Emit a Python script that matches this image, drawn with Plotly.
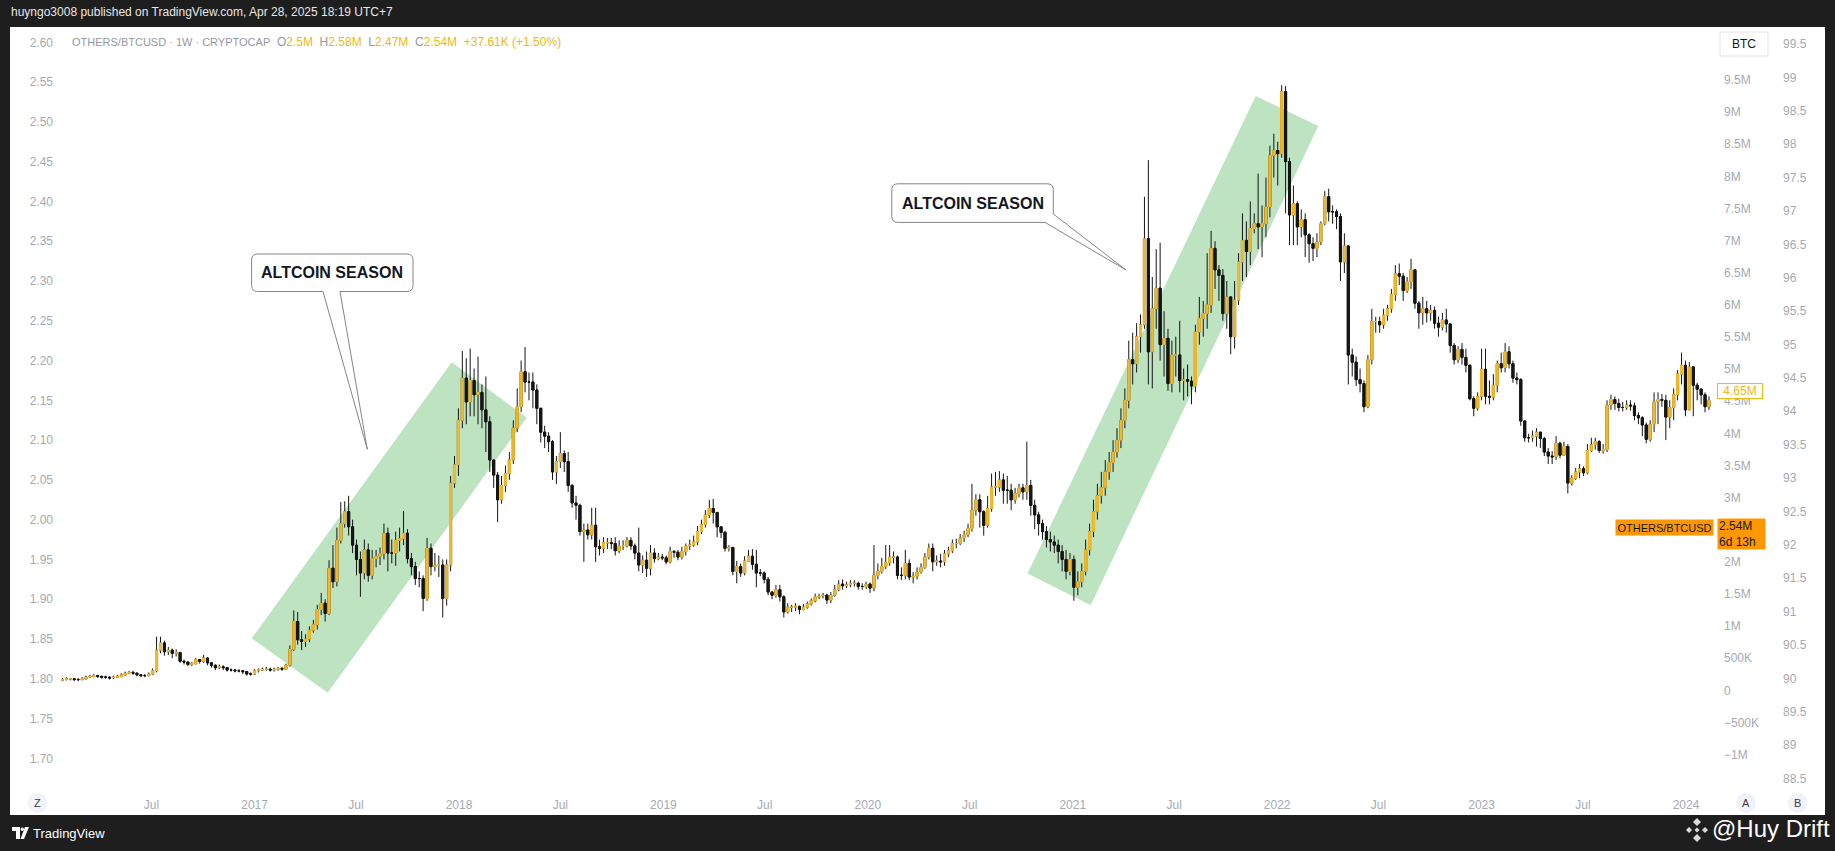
import pandas as pd
import plotly.graph_objects as go

# ---------------- canvas / pixel helpers (layout only) ----------------
W, H = 1835, 851
L, R, T, B = 58, 1810, 28, 790
X_RIGHT = 1714


def px(X):
    return (X - L) / (R - L)


def py(Y):
    return (B - Y) / (B - T)


# ---------------- data ----------------
dates = pd.date_range('2016-01-24', periods=421, freq='7D')

first_open = 1.798
close = [
    1.799, 1.800, 1.800, 1.799, 1.799, 1.800, 1.802, 1.803, 1.804, 1.803,
    1.802, 1.802, 1.801, 1.802, 1.803, 1.805, 1.807, 1.808, 1.807, 1.805,
    1.804, 1.804, 1.806, 1.810, 1.836, 1.845, 1.834, 1.836, 1.832, 1.833,
    1.822, 1.821, 1.818, 1.819, 1.824, 1.822, 1.826, 1.820, 1.817, 1.814,
    1.815, 1.814, 1.811, 1.811, 1.810, 1.810, 1.809, 1.806, 1.806, 1.810,
    1.811, 1.812, 1.812, 1.811, 1.812, 1.813, 1.812, 1.817, 1.837, 1.872,
    1.849, 1.847, 1.850, 1.861, 1.868, 1.887, 1.895, 1.882, 1.939, 1.922,
    1.974, 1.995, 2.010, 1.991, 1.968, 1.950, 1.933, 1.962, 1.930, 1.951,
    1.954, 1.957, 1.983, 1.958, 1.958, 1.974, 1.976, 1.983, 1.951, 1.941,
    1.926, 1.926, 1.901, 1.964, 1.941, 1.943, 1.943, 1.901, 1.943, 2.046,
    2.069, 2.125, 2.178, 2.148, 2.175, 2.157, 2.160, 2.138, 2.123, 2.075,
    2.056, 2.025, 2.043, 2.058, 2.075, 2.115, 2.142, 2.186, 2.173, 2.173,
    2.163, 2.140, 2.110, 2.105, 2.098, 2.060, 2.073, 2.083, 2.073, 2.043,
    2.021, 2.018, 1.985, 1.987, 1.981, 1.993, 1.966, 1.964, 1.971, 1.971,
    1.970, 1.961, 1.967, 1.967, 1.974, 1.967, 1.958, 1.943, 1.949, 1.939,
    1.958, 1.951, 1.953, 1.952, 1.947, 1.960, 1.959, 1.953, 1.960, 1.967,
    1.968, 1.972, 1.985, 1.994, 2.006, 2.014, 2.009, 1.991, 1.984, 1.964,
    1.965, 1.935, 1.941, 1.933, 1.948, 1.954, 1.944, 1.933, 1.933, 1.925,
    1.909, 1.905, 1.912, 1.903, 1.884, 1.890, 1.890, 1.891, 1.887, 1.890,
    1.894, 1.898, 1.903, 1.904, 1.905, 1.899, 1.905, 1.912, 1.919, 1.917,
    1.918, 1.920, 1.920, 1.916, 1.916, 1.919, 1.914, 1.930, 1.935, 1.941,
    1.946, 1.953, 1.953, 1.930, 1.930, 1.945, 1.928, 1.929, 1.934, 1.940,
    1.953, 1.964, 1.947, 1.948, 1.947, 1.957, 1.961, 1.970, 1.970, 1.977,
    1.981, 1.989, 2.012, 2.025, 2.010, 1.993, 2.014, 2.041, 2.041, 2.050,
    2.037, 2.037, 2.025, 2.033, 2.040, 2.035, 2.043, 2.018, 2.006, 1.995,
    1.985, 1.975, 1.972, 1.968, 1.960, 1.950, 1.935, 1.950, 1.915, 1.922,
    1.935, 1.962, 1.985, 2.010, 2.030, 2.040, 2.060, 2.072, 2.085, 2.100,
    2.125, 2.150, 2.201, 2.196, 2.230, 2.245, 2.353, 2.211, 2.265, 2.291,
    2.220, 2.228, 2.171, 2.207, 2.207, 2.175, 2.176, 2.174, 2.168, 2.236,
    2.253, 2.259, 2.270, 2.341, 2.314, 2.307, 2.259, 2.280, 2.230, 2.276,
    2.324, 2.351, 2.337, 2.366, 2.372, 2.368, 2.372, 2.393, 2.458, 2.464,
    2.460, 2.538, 2.450, 2.383, 2.397, 2.368, 2.377, 2.358, 2.347, 2.341,
    2.349, 2.372, 2.406, 2.387, 2.387, 2.381, 2.324, 2.344, 2.207, 2.198,
    2.176, 2.171, 2.142, 2.201, 2.249, 2.249, 2.245, 2.257, 2.265, 2.283,
    2.309, 2.306, 2.288, 2.299, 2.314, 2.272, 2.260, 2.265, 2.260, 2.263,
    2.247, 2.242, 2.251, 2.246, 2.219, 2.201, 2.214, 2.204, 2.194, 2.152,
    2.140, 2.155, 2.189, 2.155, 2.154, 2.169, 2.196, 2.191, 2.211, 2.196,
    2.178, 2.176, 2.124, 2.103, 2.103, 2.105, 2.110, 2.102, 2.085, 2.080,
    2.079, 2.096, 2.081, 2.092, 2.046, 2.052, 2.060, 2.064, 2.059, 2.087,
    2.094, 2.098, 2.087, 2.088, 2.144, 2.151, 2.146, 2.141, 2.141, 2.144,
    2.143, 2.131, 2.128, 2.119, 2.101, 2.120, 2.148, 2.151, 2.150, 2.129,
    2.141, 2.157, 2.183, 2.194, 2.138, 2.192, 2.169, 2.164, 2.157, 2.142, 2.150,
]

high = [
    1.801, 1.802, 1.801, 1.801, 1.801, 1.802, 1.804, 1.805, 1.806, 1.805,
    1.804, 1.804, 1.803, 1.804, 1.805, 1.807, 1.809, 1.810, 1.810, 1.808,
    1.806, 1.806, 1.808, 1.813, 1.853, 1.853, 1.848, 1.840, 1.838, 1.837,
    1.834, 1.824, 1.822, 1.821, 1.826, 1.825, 1.830, 1.827, 1.821, 1.818,
    1.818, 1.817, 1.815, 1.813, 1.812, 1.812, 1.811, 1.810, 1.808, 1.812,
    1.813, 1.814, 1.815, 1.814, 1.814, 1.815, 1.815, 1.819, 1.842, 1.886,
    1.884, 1.860, 1.856, 1.866, 1.874, 1.893, 1.908, 1.900, 1.949, 1.968,
    1.990, 2.022, 2.023, 2.030, 2.000, 1.975, 1.960, 1.975, 1.970, 1.962,
    1.962, 1.965, 1.995, 1.990, 1.975, 1.985, 1.990, 2.011, 1.988, 1.958,
    1.947, 1.935, 1.930, 1.977, 1.970, 1.958, 1.955, 1.950, 1.950, 2.055,
    2.080, 2.140, 2.212, 2.203, 2.215, 2.190, 2.205, 2.170, 2.180, 2.130,
    2.075, 2.060, 2.055, 2.068, 2.085, 2.125, 2.165, 2.200, 2.217, 2.185,
    2.185, 2.170, 2.140, 2.118, 2.110, 2.100, 2.080, 2.110, 2.087, 2.085,
    2.045, 2.030, 2.020, 1.995, 1.995, 2.015, 2.015, 1.975, 1.978, 1.977,
    1.977, 1.978, 1.974, 1.974, 1.978, 1.978, 1.970, 1.990, 1.955, 1.960,
    1.968, 1.964, 1.958, 1.957, 1.955, 1.966, 1.962, 1.962, 1.966, 1.970,
    1.975, 1.980, 1.992, 2.000, 2.012, 2.025, 2.026, 2.010, 1.990, 1.986,
    1.968, 1.966, 1.948, 1.945, 1.954, 1.962, 1.963, 1.962, 1.938, 1.935,
    1.928, 1.910, 1.918, 1.918, 1.905, 1.895, 1.893, 1.895, 1.892, 1.894,
    1.897, 1.901, 1.907, 1.907, 1.908, 1.907, 1.909, 1.918, 1.924, 1.925,
    1.922, 1.924, 1.924, 1.922, 1.920, 1.922, 1.921, 1.968, 1.945, 1.952,
    1.968, 1.968, 1.960, 1.955, 1.940, 1.962, 1.950, 1.934, 1.940, 1.945,
    1.958, 1.970, 1.970, 1.955, 1.957, 1.962, 1.966, 1.975, 1.976, 1.982,
    1.986, 1.995, 2.045, 2.032, 2.032, 2.012, 2.030, 2.058, 2.060, 2.061,
    2.058, 2.055, 2.045, 2.040, 2.045, 2.045, 2.098, 2.050, 2.025, 2.010,
    2.000, 1.992, 1.985, 1.980, 1.975, 1.968, 1.962, 1.958, 1.955, 1.935,
    1.945, 1.975, 1.995, 2.025, 2.045, 2.060, 2.075, 2.085, 2.100, 2.115,
    2.140, 2.165, 2.225, 2.235, 2.247, 2.258, 2.406, 2.452, 2.305, 2.340,
    2.348, 2.262, 2.240, 2.225, 2.230, 2.250, 2.190, 2.195, 2.180, 2.245,
    2.280, 2.275, 2.335, 2.363, 2.350, 2.320, 2.315, 2.300, 2.250, 2.300,
    2.335, 2.385, 2.375, 2.400, 2.385, 2.435, 2.395, 2.430, 2.470, 2.485,
    2.475, 2.546, 2.545, 2.455, 2.420, 2.400, 2.390, 2.385, 2.360, 2.355,
    2.360, 2.375, 2.413, 2.416, 2.395, 2.390, 2.385, 2.360, 2.345, 2.215,
    2.205, 2.190, 2.175, 2.207, 2.265, 2.255, 2.255, 2.265, 2.270, 2.290,
    2.320, 2.322, 2.310, 2.305, 2.328, 2.315, 2.275, 2.280, 2.275, 2.270,
    2.268, 2.255, 2.260, 2.265, 2.235, 2.222, 2.218, 2.222, 2.215, 2.195,
    2.155, 2.160, 2.215, 2.215, 2.175, 2.183, 2.200, 2.210, 2.222, 2.218,
    2.200, 2.185, 2.178, 2.125, 2.108, 2.112, 2.115, 2.110, 2.104, 2.090,
    2.086, 2.105, 2.098, 2.098, 2.095, 2.056, 2.065, 2.070, 2.067, 2.095,
    2.103, 2.103, 2.100, 2.095, 2.150, 2.157, 2.155, 2.152, 2.148, 2.150,
    2.150, 2.147, 2.135, 2.130, 2.122, 2.125, 2.160, 2.160, 2.158, 2.157,
    2.150, 2.165, 2.188, 2.210, 2.200, 2.198, 2.180, 2.172, 2.165, 2.160, 2.155,
]

low = [
    1.797, 1.798, 1.798, 1.797, 1.797, 1.798, 1.799, 1.801, 1.802, 1.801,
    1.800, 1.800, 1.799, 1.800, 1.801, 1.802, 1.804, 1.806, 1.805, 1.803,
    1.802, 1.802, 1.803, 1.805, 1.808, 1.832, 1.829, 1.830, 1.826, 1.828,
    1.820, 1.818, 1.816, 1.816, 1.818, 1.819, 1.820, 1.817, 1.814, 1.811,
    1.812, 1.811, 1.809, 1.809, 1.808, 1.808, 1.806, 1.804, 1.804, 1.805,
    1.808, 1.810, 1.810, 1.809, 1.809, 1.810, 1.810, 1.811, 1.815, 1.835,
    1.843, 1.836, 1.840, 1.846, 1.858, 1.862, 1.880, 1.872, 1.880, 1.914,
    1.916, 1.970, 1.990, 1.980, 1.958, 1.930, 1.903, 1.925, 1.922, 1.925,
    1.940, 1.943, 1.950, 1.935, 1.945, 1.942, 1.960, 1.968, 1.945, 1.930,
    1.918, 1.915, 1.885, 1.898, 1.930, 1.935, 1.928, 1.877, 1.892, 1.935,
    2.040, 2.055, 2.115, 2.120, 2.130, 2.130, 2.120, 2.115, 2.085, 2.060,
    2.040, 1.997, 2.020, 2.035, 2.050, 2.070, 2.110, 2.135, 2.160, 2.150,
    2.140, 2.120, 2.097, 2.090, 2.085, 2.050, 2.045, 2.065, 2.060, 2.035,
    2.015, 2.000, 1.980, 1.947, 1.975, 1.975, 1.947, 1.955, 1.958, 1.963,
    1.963, 1.955, 1.958, 1.962, 1.965, 1.962, 1.950, 1.935, 1.933, 1.928,
    1.930, 1.946, 1.949, 1.949, 1.944, 1.945, 1.952, 1.949, 1.950, 1.955,
    1.962, 1.966, 1.968, 1.982, 1.990, 2.002, 1.995, 1.978, 1.977, 1.960,
    1.960, 1.930, 1.920, 1.928, 1.930, 1.948, 1.937, 1.915, 1.929, 1.920,
    1.905, 1.900, 1.902, 1.897, 1.877, 1.882, 1.884, 1.885, 1.881, 1.886,
    1.888, 1.892, 1.896, 1.900, 1.901, 1.894, 1.895, 1.903, 1.910, 1.912,
    1.914, 1.915, 1.916, 1.912, 1.912, 1.913, 1.908, 1.910, 1.925, 1.932,
    1.938, 1.942, 1.945, 1.925, 1.924, 1.925, 1.924, 1.920, 1.925, 1.932,
    1.938, 1.950, 1.935, 1.942, 1.940, 1.942, 1.953, 1.958, 1.964, 1.968,
    1.972, 1.978, 1.985, 2.005, 1.990, 1.980, 1.990, 2.010, 2.030, 2.035,
    2.020, 2.020, 2.012, 2.020, 2.028, 2.025, 2.025, 2.005, 1.988, 1.980,
    1.975, 1.965, 1.960, 1.958, 1.945, 1.935, 1.925, 1.930, 1.898, 1.905,
    1.915, 1.930, 1.955, 1.978, 2.000, 2.020, 2.030, 2.050, 2.060, 2.078,
    2.090, 2.115, 2.140, 2.170, 2.185, 2.210, 2.240, 2.170, 2.165, 2.240,
    2.200, 2.180, 2.162, 2.160, 2.180, 2.160, 2.150, 2.155, 2.145, 2.160,
    2.220, 2.230, 2.240, 2.260, 2.290, 2.275, 2.250, 2.240, 2.208, 2.215,
    2.270, 2.300, 2.305, 2.320, 2.360, 2.340, 2.330, 2.355, 2.380, 2.430,
    2.420, 2.455, 2.385, 2.345, 2.345, 2.345, 2.355, 2.330, 2.323, 2.325,
    2.330, 2.345, 2.370, 2.375, 2.372, 2.365, 2.300, 2.310, 2.170, 2.180,
    2.168, 2.160, 2.135, 2.140, 2.195, 2.235, 2.235, 2.240, 2.250, 2.260,
    2.275, 2.295, 2.275, 2.285, 2.290, 2.265, 2.240, 2.245, 2.248, 2.250,
    2.240, 2.230, 2.238, 2.235, 2.210, 2.195, 2.197, 2.195, 2.185, 2.150,
    2.130, 2.137, 2.150, 2.145, 2.145, 2.150, 2.160, 2.185, 2.185, 2.190,
    2.172, 2.170, 2.118, 2.098, 2.097, 2.098, 2.092, 2.090, 2.080, 2.070,
    2.070, 2.075, 2.077, 2.080, 2.033, 2.043, 2.050, 2.052, 2.055, 2.057,
    2.085, 2.088, 2.084, 2.083, 2.085, 2.138, 2.138, 2.136, 2.136, 2.138,
    2.137, 2.125, 2.120, 2.105, 2.096, 2.098, 2.110, 2.120, 2.142, 2.100,
    2.115, 2.125, 2.150, 2.170, 2.130, 2.140, 2.130, 2.150, 2.145, 2.135, 2.138,
]

# axis tick labels
x_tickvals = ['2016-07-01', '2017-01-01', '2017-07-01', '2018-01-01', '2018-07-01',
              '2019-01-01', '2019-07-01', '2020-01-01', '2020-07-01', '2021-01-01',
              '2021-07-01', '2022-01-01', '2022-07-01', '2023-01-01', '2023-07-01',
              '2024-01-01']
x_ticktext = ['Jul', '2017', 'Jul', '2018', 'Jul', '2019', 'Jul', '2020', 'Jul', '2021',
              'Jul', '2022', 'Jul', '2023', 'Jul', '2024']

m_tickvals = [-1, -0.5, 0, 0.5, 1, 1.5, 2, 2.5, 3, 3.5, 4, 4.5, 5, 5.5, 6, 6.5, 7, 7.5,
              8, 8.5, 9, 9.5]
m_ticktext = ['\u22121M', '\u2212500K', '0', '500K', '1M', '1.5M', '2M', '2.5M', '3M',
              '3.5M', '4M', '4.5M', '5M', '5.5M', '6M', '6.5M', '7M', '7.5M', '8M',
              '8.5M', '9M', '9.5M']

r_tickvals = [88.5, 89, 89.5, 90, 90.5, 91, 91.5, 92, 92.5, 93, 93.5, 94, 94.5, 95,
              95.5, 96, 96.5, 97, 97.5, 98, 98.5, 99, 99.5]
r_ticktext = ['88.5', '89', '89.5', '90', '90.5', '91', '91.5', '92', '92.5', '93',
              '93.5', '94', '94.5', '95', '95.5', '96', '96.5', '97', '97.5', '98',
              '98.5', '99', '99.5']

# ---------------- derived OHLC consistency ----------------
opens = [first_open] + close[:-1]
high = [max(h, o, c) for h, o, c in zip(high, opens, close)]
low = [min(lo, o, c) for lo, o, c in zip(low, opens, close)]
body_hi = [max(o, c) for o, c in zip(opens, close)]
body_lo = [min(o, c) for o, c in zip(opens, close)]

UP = '#f4b926'
DOWN = '#151515'
GOLD = '#f0b90b'
AX = '#a6a9b0'
FONT = 'Liberation Sans, Arial, sans-serif'

fig = go.Figure()

# wicks (dark for every candle)
fig.add_trace(go.Candlestick(
    x=dates, open=opens, high=high, low=low, close=close,
    increasing=dict(line=dict(color=DOWN, width=1), fillcolor=UP),
    decreasing=dict(line=dict(color=DOWN, width=1), fillcolor=DOWN),
    hoverinfo='skip', showlegend=False))
# bodies
fig.add_trace(go.Candlestick(
    x=dates, open=opens, high=body_hi, low=body_lo, close=close,
    increasing=dict(line=dict(color=UP, width=1), fillcolor=UP),
    decreasing=dict(line=dict(color=DOWN, width=1), fillcolor=DOWN),
    hoverinfo='skip', showlegend=False))

# invisible anchors for the two right-hand scales
fig.add_trace(go.Scatter(x=[dates[0]], y=[4.0], yaxis='y2', mode='markers',
                         marker=dict(opacity=0), hoverinfo='skip', showlegend=False))
fig.add_trace(go.Scatter(x=[dates[0]], y=[94.0], yaxis='y3', mode='markers',
                         marker=dict(opacity=0), hoverinfo='skip', showlegend=False))

shapes = []
# white chart panel
shapes.append(dict(type='rect', xref='paper', yref='paper', x0=px(10), x1=px(1825),
                   y0=py(815), y1=py(27), fillcolor='white', line=dict(width=0),
                   layer='below'))


def P(a, b):
    return f'{px(a):.5f},{py(b):.5f}'


def poly(points):
    return 'M ' + ' L '.join(P(a, b) for a, b in points) + ' Z'


GREEN = '#bde3c1'
shapes.append(dict(type='path', xref='paper', yref='paper', layer='below',
                   path=poly([(251.7, 638.3), (327.7, 692.7), (526.7, 417.5), (451.7, 362.2)]),
                   fillcolor=GREEN, line=dict(width=0)))
shapes.append(dict(type='path', xref='paper', yref='paper', layer='below',
                   path=poly([(1027.5, 573.6), (1090.7, 605.2), (1318.3, 126.0), (1255.7, 96.0)]),
                   fillcolor=GREEN, line=dict(width=0)))


def callout(x0, y0, x1, y1, tail, r=6):
    segs = [f'M {P(x0 + r, y0)}', f'L {P(x1 - r, y0)}', f'Q {P(x1, y0)} {P(x1, y0 + r)}']
    segs += tail
    segs += [f'L {P(x0 + r, y1)}', f'Q {P(x0, y1)} {P(x0, y1 - r)}',
             f'L {P(x0, y0 + r)}', f'Q {P(x0, y0)} {P(x0 + r, y0)}', 'Z']
    return ' '.join(segs)


# callout 1 (tail from bottom edge)
c1x0, c1y0, c1x1, c1y1 = 251.6, 254.0, 413.0, 291.5
tail1 = [f'L {P(c1x1, c1y1 - 6)}', f'Q {P(c1x1, c1y1)} {P(c1x1 - 6, c1y1)}',
         f'L {P(340, c1y1)}', f'L {P(367.3, 449.3)}', f'L {P(323, c1y1)}']
shapes.append(dict(type='path', xref='paper', yref='paper', layer='above',
                   path=callout(c1x0, c1y0, c1x1, c1y1, tail1),
                   fillcolor='white', line=dict(color='#858585', width=1)))
# callout 2 (tail from bottom-right corner)
c2x0, c2y0, c2x1, c2y1 = 891.8, 183.8, 1053.3, 222.4
tail2 = [f'L {P(c2x1, 214.0)}', f'L {P(1126, 270)}', f'L {P(1045, c2y1)}']
shapes.append(dict(type='path', xref='paper', yref='paper', layer='above',
                   path=callout(c2x0, c2y0, c2x1, c2y1, tail2),
                   fillcolor='white', line=dict(color='#858585', width=1)))

# round buttons Z / A / B
for cx in (37.5, 1746, 1797.6):
    shapes.append(dict(type='circle', xref='paper', yref='paper', x0=px(cx - 10), x1=px(cx + 10),
                       y0=py(813), y1=py(793), fillcolor='#f0f3fa', line=dict(width=0)))
# BTC box
shapes.append(dict(type='rect', xref='paper', yref='paper', x0=px(1720), x1=px(1768),
                   y0=py(56), y1=py(32), fillcolor='white',
                   line=dict(color='#e0e3eb', width=1)))

# TradingView logo (simplified)
shapes.append(dict(type='rect', xref='paper', yref='paper', x0=px(12), x1=px(20),
                   y0=py(831), y1=py(827), fillcolor='white', line=dict(width=0)))
shapes.append(dict(type='rect', xref='paper', yref='paper', x0=px(16), x1=px(20),
                   y0=py(839), y1=py(827), fillcolor='white', line=dict(width=0)))
shapes.append(dict(type='circle', xref='paper', yref='paper', x0=px(20.5), x1=px(24),
                   y0=py(831), y1=py(827.5), fillcolor='white', line=dict(width=0)))
shapes.append(dict(type='path', xref='paper', yref='paper',
                   path=poly([(25, 827), (29, 827), (24, 839), (20.5, 839)]),
                   fillcolor='white', line=dict(width=0)))
# diamond badge next to the signature
for (cx, cy, s) in [(1697, 822, 4), (1689, 830, 3), (1705, 830, 3), (1697, 830, 2.5),
                    (1697, 838, 4)]:
    shapes.append(dict(type='path', xref='paper', yref='paper',
                       path=poly([(cx, cy - s), (cx + s, cy), (cx, cy + s), (cx - s, cy)]),
                       fillcolor='#d9d9d9', line=dict(width=0)))

sp = '\u00a0'
legend_txt = (
    f"<span style='color:#9598a1;font-size:11px'>OTHERS/BTCUSD{sp}·{sp}1W{sp}·{sp}CRYPTOCAP</span>{sp}{sp}"
    f"<span style='color:#9598a1'>O</span><span style='color:{GOLD}'>2.5M</span>{sp}{sp}"
    f"<span style='color:#9598a1'>H</span><span style='color:{GOLD}'>2.58M</span>{sp}{sp}"
    f"<span style='color:#9598a1'>L</span><span style='color:{GOLD}'>2.47M</span>{sp}{sp}"
    f"<span style='color:#9598a1'>C</span><span style='color:{GOLD}'>2.54M</span>{sp}{sp}"
    f"<span style='color:{GOLD}'>+37.61K{sp}(+1.50%)</span>"
)


def ann(X, Y, text, xa='center', ya='middle', **kw):
    d = dict(x=px(X), y=py(Y), xref='paper', yref='paper', text=text, showarrow=False,
             xanchor=xa, yanchor=ya)
    d.update(kw)
    return d


annotations = [
    ann(9, 12, 'huyngo3008 published on TradingView.com, Apr 28, 2025 18:19 UTC+7', xa='left',
        font=dict(family=FONT, size=12, color='#e6e6e6')),
    ann(70, 42, legend_txt, xa='left', font=dict(family=FONT, size=12, color='#9598a1')),
    ann((c1x0 + c1x1) / 2, (c1y0 + c1y1) / 2, '<b>ALTCOIN SEASON</b>',
        font=dict(family=FONT, size=16, color='#131722')),
    ann((c2x0 + c2x1) / 2, (c2y0 + c2y1) / 2, '<b>ALTCOIN SEASON</b>',
        font=dict(family=FONT, size=16, color='#131722')),
    ann(1744, 44, 'BTC', font=dict(family=FONT, size=12, color='#131722')),
    ann(1739.7, 391.3, '4.65M', width=44, height=14, bgcolor='white', bordercolor=GOLD,
        borderwidth=1, borderpad=0, font=dict(family=FONT, size=12, color=GOLD)),
    ann(1664.5, 527, 'OTHERS/BTCUSD', width=97, height=15, bgcolor='#ff9800', borderpad=0,
        font=dict(family=FONT, size=11, color='#131722')),
    ann(1741, 534, '2.54M<br>6d 13h', width=45, height=28, bgcolor='#ff9800', borderpad=1,
        align='left', font=dict(family=FONT, size=12, color='#131722')),
    ann(37.5, 803, 'Z', font=dict(family=FONT, size=11, color='#3a3a3a')),
    ann(1746, 803, 'A', font=dict(family=FONT, size=11, color='#3a3a3a')),
    ann(1797.6, 803, 'B', font=dict(family=FONT, size=11, color='#3a3a3a')),
    ann(31, 833, 'TradingView', xa='left', font=dict(family=FONT, size=13, color='white')),
    ann(1832, 829, '@Huy Drift', xa='right', font=dict(family=FONT, size=24, color='white')),
]

tickfont = dict(family=FONT, size=12, color=AX)

fig.update_layout(
    width=W, height=H,
    margin=dict(l=L, r=W - R, t=T, b=H - B, pad=0),
    paper_bgcolor='#1e1e1e', plot_bgcolor='white',
    showlegend=False, hovermode=False, boxgap=0.25,
    xaxis=dict(domain=[0, px(X_RIGHT)], type='date', range=['2016-01-16', '2024-02-20'],
               rangeslider=dict(visible=False), showgrid=False, zeroline=False,
               showline=False, ticks='', tickvals=x_tickvals, ticktext=x_ticktext,
               tickfont=tickfont, ticklabelstandoff=6),
    yaxis=dict(range=[1.6602, 2.618], tick0=1.70, dtick=0.05, tickformat='.2f', side='left',
               showgrid=False, zeroline=False, showline=False, ticks='',
               tickfont=tickfont, ticklabelstandoff=4),
    yaxis2=dict(overlaying='y', side='right', anchor='x', range=[-1.552, 10.31],
                tickvals=m_tickvals, ticktext=m_ticktext, showgrid=False, zeroline=False,
                showline=False, ticks='', tickfont=tickfont, ticklabelstandoff=9),
    yaxis3=dict(overlaying='y', side='right', anchor='free', position=px(1778),
                range=[88.327, 99.74], tickvals=r_tickvals, ticktext=r_ticktext,
                showgrid=False, zeroline=False, showline=False, ticks='',
                tickfont=tickfont, ticklabelstandoff=4),
    shapes=shapes,
    annotations=annotations,
)

fig.write_html('out.html', config={'displayModeBar': False},
               post_script="document.body.style.margin='0';document.body.style.padding='0';")
